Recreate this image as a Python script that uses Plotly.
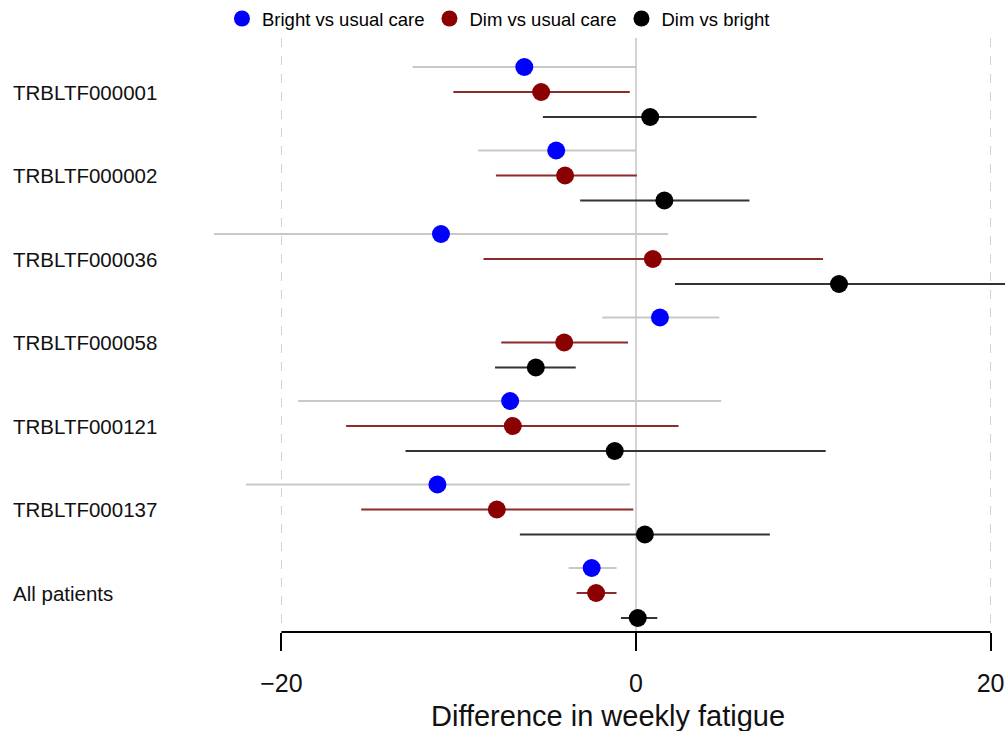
import plotly.graph_objects as go

groups = ["TRBLTF000001", "TRBLTF000002", "TRBLTF000036", "TRBLTF000058",
          "TRBLTF000121", "TRBLTF000137", "All patients"]

series_names = ["Bright vs usual care", "Dim vs usual care", "Dim vs bright"]

# point estimates
bright_usual = [-6.3, -4.5, -11.0, 1.35, -7.1, -11.2, -2.5]
dim_usual = [-5.35, -4.0, 0.95, -4.05, -6.95, -7.85, -2.25]
dim_bright = [0.8, 1.6, 11.45, -5.65, -1.2, 0.5, 0.1]

# lower CI
bright_usual_lo = [-12.6, -8.9, -23.8, -1.9, -19.05, -22.0, -3.8]
dim_usual_lo = [-10.3, -7.9, -8.6, -7.6, -16.35, -15.5, -3.35]
dim_bright_lo = [-5.25, -3.15, 2.2, -7.95, -13.0, -6.55, -0.85]

# upper CI
bright_usual_hi = [0.0, 0.0, 1.8, 4.7, 4.8, -0.35, -1.1]
dim_usual_hi = [-0.35, 0.05, 10.55, -0.45, 2.4, -0.15, -1.1]
dim_bright_hi = [6.8, 6.4, 22.5, -3.4, 10.7, 7.55, 1.2]

x_ticks = [-20, 0, 20]
x_title = "Difference in weekly fatigue"

est = [bright_usual, dim_usual, dim_bright]
lo = [bright_usual_lo, dim_usual_lo, dim_bright_lo]
hi = [bright_usual_hi, dim_usual_hi, dim_bright_hi]

point_colors = ["#0000FF", "#8B0000", "#000000"]
ci_colors = ["#C8C8C8", "#8E2A2A", "#333333"]

FONT = "Liberation Sans, Arial, sans-serif"
GSTEP = 3.34  # group spacing in sub-row units


def ypos(g, s):
    return -(g * GSTEP + s)


fig = go.Figure()
for s in range(3):
    ys = [ypos(g, s) for g in range(len(groups))]
    plus = [h - e for h, e in zip(hi[s], est[s])]
    minus = [e - l for e, l in zip(est[s], lo[s])]
    fig.add_trace(go.Scatter(
        x=est[s], y=ys, mode="markers", name=series_names[s],
        marker=dict(color=point_colors[s], size=18, line=dict(width=0)),
        error_x=dict(type="data", symmetric=False, array=plus, arrayminus=minus,
                     color=ci_colors[s], thickness=2, width=0),
    ))

for g, name in enumerate(groups):
    fig.add_annotation(
        x=11 / 1005, xref="paper", xanchor="left",
        y=ypos(g, 1), yref="y", yanchor="middle",
        text=name, showarrow=False,
        font=dict(size=20.5, color="#111111", family=FONT),
    )

# x-axis title
fig.add_annotation(
    x=608 / 1005, xref="paper", xanchor="center",
    y=-(716 - 632) / 594, yref="paper", yanchor="middle",
    text=x_title, showarrow=False,
    font=dict(size=29, color="#111111", family=FONT),
)

# axis line only between outer ticks
fig.add_shape(type="line", xref="x", yref="paper", x0=x_ticks[0], x1=x_ticks[-1],
              y0=0, y1=0, line=dict(color="black", width=2))

fig.update_layout(
    width=1005, height=731,
    margin=dict(l=0, r=0, t=38, b=99),
    paper_bgcolor="white", plot_bgcolor="white",
    font=dict(family=FONT, color="black"),
    showlegend=True,
    legend=dict(orientation="h", x=0.496, xanchor="center", y=1.032, yanchor="middle",
                font=dict(size=18.5), itemsizing="trace", tracegroupgap=0,
                bgcolor="rgba(0,0,0,0)"),
    xaxis=dict(
        range=[(0 - 636) / 17.73, (1005 - 636) / 17.73],
        tickvals=x_ticks, ticks="outside", ticklen=18, tickwidth=2, tickcolor="black",
        tickfont=dict(size=25, color="#111111"), ticklabelstandoff=11,
        showgrid=True, gridcolor="#D3D3D3", griddash="dash", gridwidth=1,
        zeroline=True, zerolinecolor="#D3D3D3", zerolinewidth=1.5,
        showline=False,
    ),
    yaxis=dict(
        range=[-(632 - 67) / 25, (67 - 38) / 25],
        showticklabels=False, showgrid=False, zeroline=False, showline=False,
    ),
)

fig.write_html("out.html", config={"displayModeBar": False},
               post_script="document.body.style.margin='0';document.body.style.overflow='hidden';")
